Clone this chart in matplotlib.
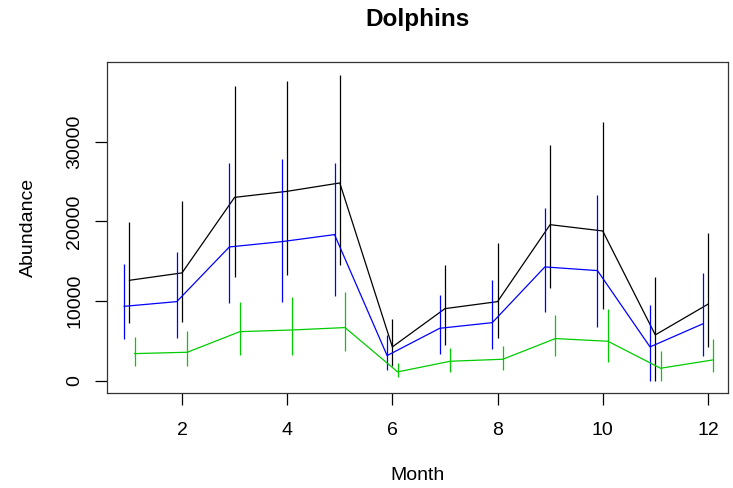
import matplotlib.pyplot as plt
import numpy as np

plt.rcParams["font.family"] = ["Liberation Sans", "DejaVu Sans"]

# Monthly abundance estimates with lower / upper bounds
months = np.arange(1, 13)

total = [12600, 13530, 23020, 23780, 24830, 4230, 9040, 9920, 19590, 18800, 5740, 9590]
total_lo = [7250, 7370, 12970, 13310, 14570, 1800, 4430, 5400, 11590, 9000, 0, 4230]
total_hi = [19930, 22570, 37050, 37680, 38430, 7790, 14480, 17290, 29560, 32440, 13060, 18500]

blue = [9330, 9920, 16790, 17460, 18340, 3140, 6570, 7280, 14280, 13820, 4230, 7120]
blue_lo = [5240, 5360, 9760, 9880, 10680, 1380, 3350, 3930, 8630, 6780, 0, 3100]
blue_hi = [14660, 16200, 27380, 27880, 27380, 5690, 10760, 12650, 21640, 23360, 9510, 13530]

green = [3390, 3560, 6150, 6360, 6660, 1090, 2430, 2680, 5280, 4940, 1550, 2600]
green_lo = [1800, 1800, 3180, 3180, 3680, 420, 1050, 1300, 3100, 2300, 0, 1050]
green_hi = [5440, 6190, 9920, 10550, 11180, 2170, 4060, 4400, 8250, 9040, 3770, 5280]

series = [
    (total, total_lo, total_hi, 0.0, "black"),
    (blue, blue_lo, blue_hi, -0.1, "#0000FF"),
    (green, green_lo, green_hi, 0.1, "#00CD00"),
]

fig = plt.figure(figsize=(7.33, 4.88), dpi=100)
ax = fig.add_axes([0.146, 0.195, 0.847, 0.677])

for values, lo, hi, offset, color in series:
    x = months + offset
    ax.plot(x, values, color=color, lw=0.9)
    ax.vlines(x, lo, hi, color=color, lw=0.9)

ax.set_xlim(0.574, 12.38)
ax.set_ylim(-1540, 39970)
ax.set_xticks([2, 4, 6, 8, 10, 12])
ax.set_yticks([0, 10000, 20000, 30000])
ax.set_yticklabels(["0", "10000", "20000", "30000"], rotation=90, va="center")
ax.tick_params(axis="both", direction="out", length=8.6, width=0.9, labelsize=14)
ax.tick_params(axis="y", pad=8.5)
ax.tick_params(axis="x", pad=12.5)
for spine in ax.spines.values():
    spine.set_linewidth(0.9)
    spine.set_color("#333333")

ax.set_xlabel("Month", fontsize=14, va="center")
ax.xaxis.set_label_coords(0.5, -0.251)
ax.set_ylabel("Abundance", fontsize=14, va="center")
ax.yaxis.set_label_coords(-0.126, 0.5)
ax.text(0.5, 1.1307, "Dolphins", transform=ax.transAxes, ha="center", va="center",
        fontsize=17.5, fontweight="bold")

fig.savefig("out.png", dpi=100)
